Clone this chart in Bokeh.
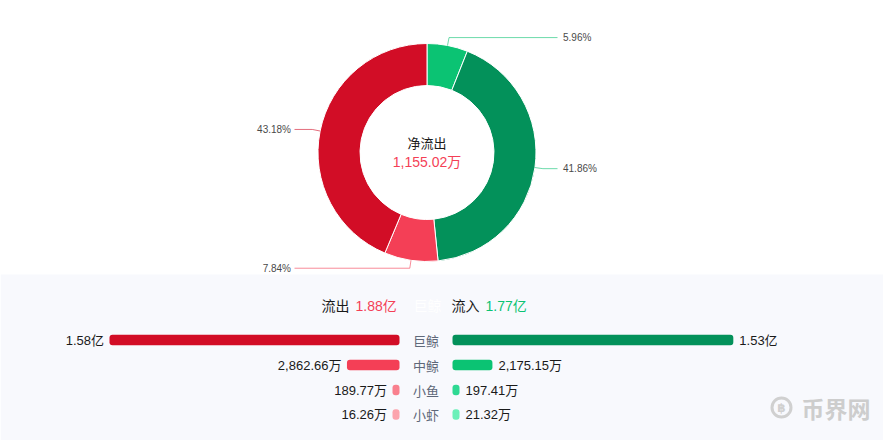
import math
from bokeh.plotting import figure
from bokeh.models import Range1d, BoxAnnotation
from bokeh.core.properties import value
from bokeh.embed import file_html
from bokeh.resources import INLINE

# ---------------- data ----------------
pie_labels = ["中鲸流入", "巨鲸流入", "中鲸流出", "巨鲸流出"]
pie_pct = [5.96, 41.86, 7.84, 43.18]
pie_colors = ["#0bc373", "#03915a", "#f43f56", "#d20d26"]

center_title = "净流出"
center_value = "1,155.02万"

total_out_text = "1.88亿"
total_in_text = "1.77亿"

categories = ["巨鲸", "中鲸", "小鱼", "小虾"]
outflow = [15800.0, 2862.66, 189.77, 16.26]        # 万
inflow = [15300.0, 2175.15, 197.41, 21.32]          # 万
outflow_labels = ["1.58亿", "2,862.66万", "189.77万", "16.26万"]
inflow_labels = ["1.53亿", "2,175.15万", "197.41万", "21.32万"]
out_colors = ["#d20d26", "#f43f56", "#f9808e", "#fca4ad"]
in_colors = ["#03915a", "#0bc373", "#2fd993", "#6cf0b9"]

# ---------------- layout ----------------
W, H = 883, 440
FONT = value("Liberation Sans, Noto Sans CJK SC")
CJK = value("Noto Sans CJK SC")

MAXV = max(outflow + inflow)
BAR_PX = 290.0                 # pixel length of the longest bar
UPX = MAXV / BAR_PX            # value units per pixel
MID = 425.5                    # x of the centre line
GAP = 26.5 * UPX
MINW = 7 * UPX

p = figure(width=W, height=H, output_backend="svg", toolbar_location=None,
           x_range=Range1d(-MID * UPX, (W - MID) * UPX),
           y_range=Range1d(-H, 0), min_border=0,
           x_axis_location=None, y_axis_location=None)
p.extra_x_ranges = {"px": Range1d(0, W)}
p.grid.visible = False
p.outline_line_color = None
p.background_fill_color = "white"
p.border_fill_color = "white"

# bottom panel background
p.add_layout(BoxAnnotation(top=-274, fill_color="#f8f9fd", fill_alpha=1,
                           line_color=None, level="underlay"))

# ---------------- donut ----------------
CX, CY = 426.5, -152
R_IN, R_OUT = 67, 109
tot = sum(pie_pct)
starts, ends, mids = [], [], []
acc = 0.0
for v in pie_pct:
    c0 = acc / tot * 2 * math.pi
    acc += v
    c1 = acc / tot * 2 * math.pi
    starts.append(math.pi / 2 - c1)
    ends.append(math.pi / 2 - c0)
    mids.append((c0 + c1) / 2)

p.annular_wedge(x=[CX] * 4, y=[CY] * 4, inner_radius=R_IN, outer_radius=R_OUT,
                inner_radius_units="screen", outer_radius_units="screen",
                start_angle=starts, end_angle=ends, direction="anticlock",
                fill_color=pie_colors, line_color="white", line_width=1,
                x_range_name="px")

# leader lines + labels
line_colors = ["#0bc373", "#0bc373", "#f43f56", "#d20d26"]
for v, col, m in zip(pie_pct, line_colors, mids):
    sx, sy = math.sin(m), math.cos(m)
    x0, y0 = CX + R_OUT * sx, CY + R_OUT * sy
    x1, y1 = CX + (R_OUT + 8) * sx, CY + (R_OUT + 8) * sy
    right = sx >= 0
    x2 = 557 if right else 294
    p.line(x=[x0, x1, x2], y=[y0, y1, y1], line_color=col, line_alpha=0.6,
           line_width=1, x_range_name="px")
    p.text(x=[x2 + 5.5 if right else x2 - 3.5], y=[y1], text=[f"{v:.2f}%"],
           text_align="left" if right else "right", text_baseline="middle",
           text_font=FONT, text_font_size="10px", text_color="#4a4a4a",
           x_range_name="px")

p.text(x=[CX], y=[-142], text=[center_title], text_align="center",
       text_baseline="middle", text_font=CJK, text_font_size="13px",
       text_color="#1a1a1a", x_range_name="px")
p.text(x=[CX], y=[-161.5], text=[center_value], text_align="center",
       text_baseline="middle", text_font=FONT, text_font_size="14px",
       text_color="#f43f56", x_range_name="px")

# ---------------- totals row ----------------
TY = -305
p.text(x=[321, 355, 413, 451, 485], y=[TY] * 5,
       text=["流出", total_out_text, categories[0], "流入", total_in_text],
       text_color=["#1a1a1a", "#f43f56", "#ffffff", "#1a1a1a", "#0bc373"],
       text_align="left", text_baseline="middle", text_font=FONT,
       text_font_size="14px", x_range_name="px")

# ---------------- bars ----------------
rows_y = [-339.5, -364.5, -389.5, -414]
out_w = [max(v, MINW) for v in outflow]
in_w = [max(v, MINW) for v in inflow]
p.hbar(y=rows_y, left=[-GAP - w for w in out_w], right=[-GAP] * 4, height=10.5,
       fill_color=out_colors, line_color=None, border_radius=3)
p.hbar(y=rows_y, left=[GAP] * 4, right=[GAP + w for w in in_w], height=10.5,
       fill_color=in_colors, line_color=None, border_radius=3)

p.text(x=[-GAP - w - 5.5 * UPX for w in out_w], y=rows_y, text=outflow_labels,
       text_align="right", text_baseline="middle", text_font=FONT,
       text_font_size="13px", text_color="#1a1a1a")
p.text(x=[GAP + w + 6 * UPX for w in in_w], y=rows_y, text=inflow_labels,
       text_align="left", text_baseline="middle", text_font=FONT,
       text_font_size="13px", text_color="#1a1a1a")
p.text(x=[0] * 4, y=rows_y, text=categories, text_align="center",
       text_baseline="middle", text_font=CJK, text_font_size="13px",
       text_color="#5f6879")

# ---------------- watermark ----------------
p.scatter(x=[781], y=[-407], size=19, marker="circle", fill_color=None,
          line_color="#d0d0d0", line_width=3, x_range_name="px")
p.text(x=[781], y=[-407], text=["฿"], text_align="center", text_baseline="middle",
       text_font=value("DejaVu Sans"), text_font_size="12px",
       text_font_style="bold", text_color="#d0d0d0", x_range_name="px")
p.text(x=[801], y=[-407], text=["币界网"], text_align="left", text_baseline="middle",
       text_font=CJK, text_font_size="23px", text_font_style="bold",
       text_color="#cdcdcd", x_range_name="px")

open("out.html", "w").write(file_html(p, INLINE))
